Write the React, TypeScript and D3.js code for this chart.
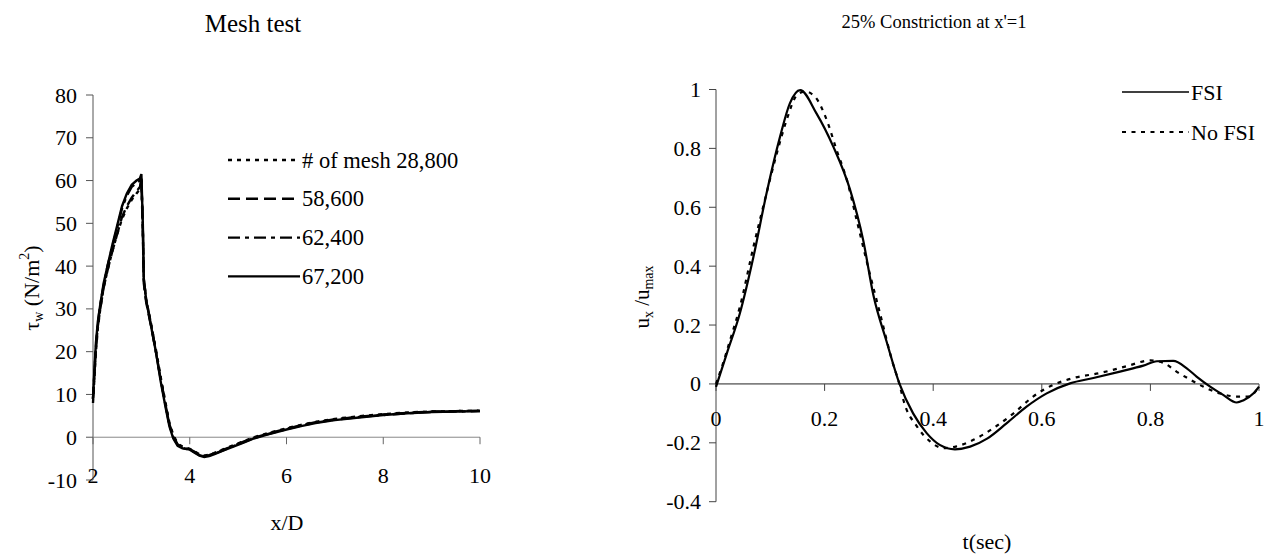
import React from "react";
import * as d3 from "d3";

// ---- left chart: mesh test (wall shear stress vs x/D)
const meshX = [2.0, 2.03, 2.06, 2.1, 2.15, 2.22, 2.3, 2.4, 2.5, 2.6, 2.7, 2.8, 2.9, 2.97, 3.0, 3.03, 3.05, 3.1, 3.2, 3.3, 3.4, 3.5, 3.58, 3.66, 3.75, 3.85, 4.0, 4.1, 4.2, 4.3, 4.4, 4.5, 4.7, 4.9, 5.1, 5.3, 5.6, 6.0, 6.3, 6.6, 7.0, 7.5, 8.0, 8.5, 9.0, 9.5, 10.0];
const mesh28800 = [8, 14, 20, 25.5, 30, 35, 39, 43.5, 47.5, 51, 53.5, 55.5, 57, 58, 60.5, 49, 37, 32, 26.5, 20.5, 14, 8, 3.3, 0.5, -1.5, -2.2, -2.7, -3.3, -4.0, -4.3, -4.1, -3.7, -2.8, -1.9, -1.0, -0.1, 0.9, 2.1, 2.9, 3.6, 4.3, 4.9, 5.4, 5.8, 6.0, 6.1, 6.2];
const mesh58600 = [9, 15, 21, 26, 30, 35, 39, 43.5, 47.5, 51.5, 54, 56, 57.5, 58.5, 60, 48, 36, 31.5, 26, 20, 13.5, 7.5, 3, 0.2, -1.7, -2.4, -2.8, -3.4, -4.1, -4.4, -4.2, -3.8, -2.9, -2.0, -1.1, -0.2, 0.8, 2.0, 2.8, 3.5, 4.2, 4.8, 5.3, 5.7, 6.0, 6.1, 6.2];
const mesh62400 = [9, 15, 21, 26.5, 31, 35.5, 40, 44.5, 49, 53.5, 56.5, 58.5, 59.5, 60, 61, 49, 37, 32, 26.5, 20, 13.5, 7.5, 2.8, 0, -1.8, -2.5, -2.9, -3.5, -4.2, -4.5, -4.3, -3.9, -3.0, -2.1, -1.2, -0.3, 0.7, 1.9, 2.7, 3.4, 4.1, 4.7, 5.2, 5.6, 5.9, 6.0, 6.1];
const mesh67200 = [9, 16, 22, 27, 31, 36, 40, 45, 49.5, 54, 57, 59, 60, 60.5, 61.5, 50, 37, 32, 26, 20, 13, 7, 2.5, -0.3, -2, -2.6, -2.9, -3.6, -4.3, -4.6, -4.4, -4.0, -3.1, -2.2, -1.3, -0.4, 0.6, 1.8, 2.6, 3.3, 4.0, 4.6, 5.2, 5.6, 5.9, 6.0, 6.1];
const meshLabels = ["# of mesh 28,800", "58,600", "62,400", "67,200"];
const leftXTicks = [2, 4, 6, 8, 10];
const leftYTicks = [-10, 0, 10, 20, 30, 40, 50, 60, 70, 80];

// ---- right chart: velocity at constriction
const fsiT = [0, 0.02, 0.044, 0.069, 0.093, 0.118, 0.136, 0.155, 0.185, 0.216, 0.247, 0.271, 0.29, 0.314, 0.338, 0.363, 0.388, 0.412, 0.44, 0.468, 0.5, 0.535, 0.572, 0.609, 0.652, 0.695, 0.744, 0.787, 0.812, 0.842, 0.867, 0.885, 0.91, 0.934, 0.959, 0.971, 0.99, 1.0];
const fsiV = [-0.01, 0.104, 0.24, 0.432, 0.647, 0.84, 0.953, 0.998, 0.919, 0.806, 0.659, 0.489, 0.3, 0.145, 0.0, -0.1, -0.167, -0.207, -0.222, -0.213, -0.185, -0.134, -0.077, -0.032, 0.002, 0.02, 0.042, 0.062, 0.077, 0.078, 0.053, 0.025, -0.009, -0.037, -0.063, -0.056, -0.032, -0.009];
const noFsiT = [0, 0.011, 0.026, 0.044, 0.069, 0.09, 0.112, 0.13, 0.149, 0.164, 0.182, 0.204, 0.222, 0.241, 0.259, 0.28, 0.302, 0.324, 0.339, 0.345, 0.37, 0.394, 0.419, 0.443, 0.474, 0.511, 0.548, 0.584, 0.621, 0.658, 0.707, 0.756, 0.8, 0.826, 0.848, 0.873, 0.897, 0.928, 0.959, 0.98, 0.996, 1.0];
const noFsiV = [0, 0.059, 0.149, 0.262, 0.466, 0.625, 0.783, 0.896, 0.981, 0.993, 0.976, 0.896, 0.795, 0.693, 0.557, 0.398, 0.24, 0.081, -0.009, -0.054, -0.144, -0.195, -0.218, -0.212, -0.19, -0.15, -0.1, -0.043, -0.003, 0.02, 0.037, 0.06, 0.08, 0.07, 0.042, 0.015, -0.009, -0.032, -0.043, -0.043, -0.019, -0.006];
const fsiLabels = ["FSI", "No FSI"];
const rightXTicks = [0, 0.2, 0.4, 0.6, 0.8, 1];
const rightYTicks = [-0.4, -0.2, 0, 0.2, 0.4, 0.6, 0.8, 1];

const FONT = '"Liberation Serif", "DejaVu Serif", serif';
const meshDash = ["4,5", "12,6", "12,5,4,5", null];
const fsiDash = [null, "4,5.5"];

type Pt = [number, number];
const zip = (xs: number[], ys: number[]): Pt[] => xs.map((x, i) => [x, ys[i]]);

export default function App() {
  // left scales
  const lx = d3.scaleLinear().domain([2, 10]).range([93, 480]);
  const ly = d3.scaleLinear().domain([-10, 80]).range([480, 95]);
  const lLine = d3.line<Pt>().x(d => lx(d[0])).y(d => ly(d[1]));
  const meshSeries = [mesh28800, mesh58600, mesh62400, mesh67200];

  // right scales
  const rx = d3.scaleLinear().domain([0, 1]).range([716, 1259]);
  const ry = d3.scaleLinear().domain([-0.4, 1]).range([501.7, 89.5]);
  const rLine = d3.line<Pt>().x(d => rx(d[0])).y(d => ry(d[1])).curve(d3.curveMonotoneX);
  const rSeries = [zip(fsiT, fsiV), zip(noFsiT, noFsiV)];

  const fmtR = (v: number) => (Math.abs(v) < 1e-9 ? "0" : String(+v.toFixed(1)));

  return (
    <svg width={1274} height={554}
      style={{ position: "absolute", left: 0, top: 0, background: "#fff", fontFamily: FONT }}>
      {/* ===== Left chart ===== */}
      <text x={253} y={32} fontSize={25} textAnchor="middle">Mesh test</text>

      {/* axes */}
      <line x1={lx(2)} x2={lx(2)} y1={ly(80)} y2={ly(-10)} stroke="#555" strokeWidth={1} />
      <line x1={lx(2)} x2={lx(10)} y1={ly(0)} y2={ly(0)} stroke="#888" strokeWidth={1} />
      {leftYTicks.map(t => (
        <g key={"ly" + t}>
          <line x1={lx(2) - 7} x2={lx(2)} y1={ly(t)} y2={ly(t)} stroke="#555" />
          <text x={77} y={ly(t) + 7.5} fontSize={22} textAnchor="end">{t}</text>
        </g>
      ))}
      {leftXTicks.map(t => (
        <g key={"lx" + t}>
          <line x1={lx(t)} x2={lx(t)} y1={ly(0)} y2={ly(0) + 7} stroke="#666" />
          <text x={lx(t)} y={483} fontSize={22} textAnchor="middle">{t}</text>
        </g>
      ))}
      <text x={287} y={530} fontSize={22} textAnchor="middle">x/D</text>
      <text transform="translate(39,288) rotate(-90)" fontSize={22} textAnchor="middle">
        τ<tspan fontSize={14} dy={4}>w</tspan>
        <tspan dy={-4}> (N/m</tspan>
        <tspan fontSize={14} dy={-10}>2</tspan>
        <tspan dy={10}>)</tspan>
      </text>

      {/* series */}
      {meshSeries.map((vals, i) => (
        <path key={"m" + i} d={lLine(zip(meshX, vals)) || ""} fill="none" stroke="#000"
          strokeWidth={2.4} strokeDasharray={meshDash[i] || undefined} />
      ))}

      {/* legend */}
      {meshLabels.map((lab, i) => {
        const y = 160 + i * 38.8;
        return (
          <g key={"ml" + i}>
            <line x1={228} x2={300} y1={y} y2={y} stroke="#000" strokeWidth={2.4}
              strokeDasharray={meshDash[i] || undefined} />
            <text x={302} y={y + 7.5} fontSize={22.5}>{lab}</text>
          </g>
        );
      })}

      {/* ===== Right chart ===== */}
      <text x={934} y={28} fontSize={18.5} textAnchor="middle">25% Constriction at x'=1</text>

      <line x1={rx(0)} x2={rx(0)} y1={ry(1)} y2={ry(-0.4)} stroke="#444" strokeWidth={1} />
      <line x1={rx(0)} x2={rx(1)} y1={ry(0)} y2={ry(0)} stroke="#222" strokeWidth={1} />
      {rightYTicks.map(t => (
        <g key={"ry" + t}>
          <line x1={rx(0) - 7} x2={rx(0)} y1={ry(t)} y2={ry(t)} stroke="#444" />
          <text x={701} y={ry(t) + 7.5} fontSize={22} textAnchor="end">{fmtR(t)}</text>
        </g>
      ))}
      {rightXTicks.map(t => (
        <g key={"rx" + t}>
          <line x1={rx(t)} x2={rx(t)} y1={ry(0)} y2={ry(0) + 7} stroke="#444" />
          <text x={rx(t)} y={426} fontSize={22} textAnchor="middle">{fmtR(t)}</text>
        </g>
      ))}
      <text x={987} y={549} fontSize={22} textAnchor="middle">t(sec)</text>
      <text transform="translate(649,297) rotate(-90)" fontSize={21} textAnchor="middle">
        u<tspan fontSize={14} dy={4}>x</tspan>
        <tspan dy={-4}> /u</tspan>
        <tspan fontSize={14} dy={4}>max</tspan>
      </text>

      {rSeries.map((pts, i) => (
        <path key={"r" + i} d={rLine(pts) || ""} fill="none" stroke="#000"
          strokeWidth={2.2} strokeDasharray={fsiDash[i] || undefined} />
      ))}

      {fsiLabels.map((lab, i) => {
        const y = 92 + i * 40;
        return (
          <g key={"rl" + i}>
            <line x1={1122} x2={1189} y1={y} y2={y} stroke="#000" strokeWidth={i === 0 ? 1.6 : 2}
              strokeDasharray={fsiDash[i] || undefined} />
            <text x={1191} y={y + 7.5} fontSize={22}>{lab}</text>
          </g>
        );
      })}
    </svg>
  );
}
